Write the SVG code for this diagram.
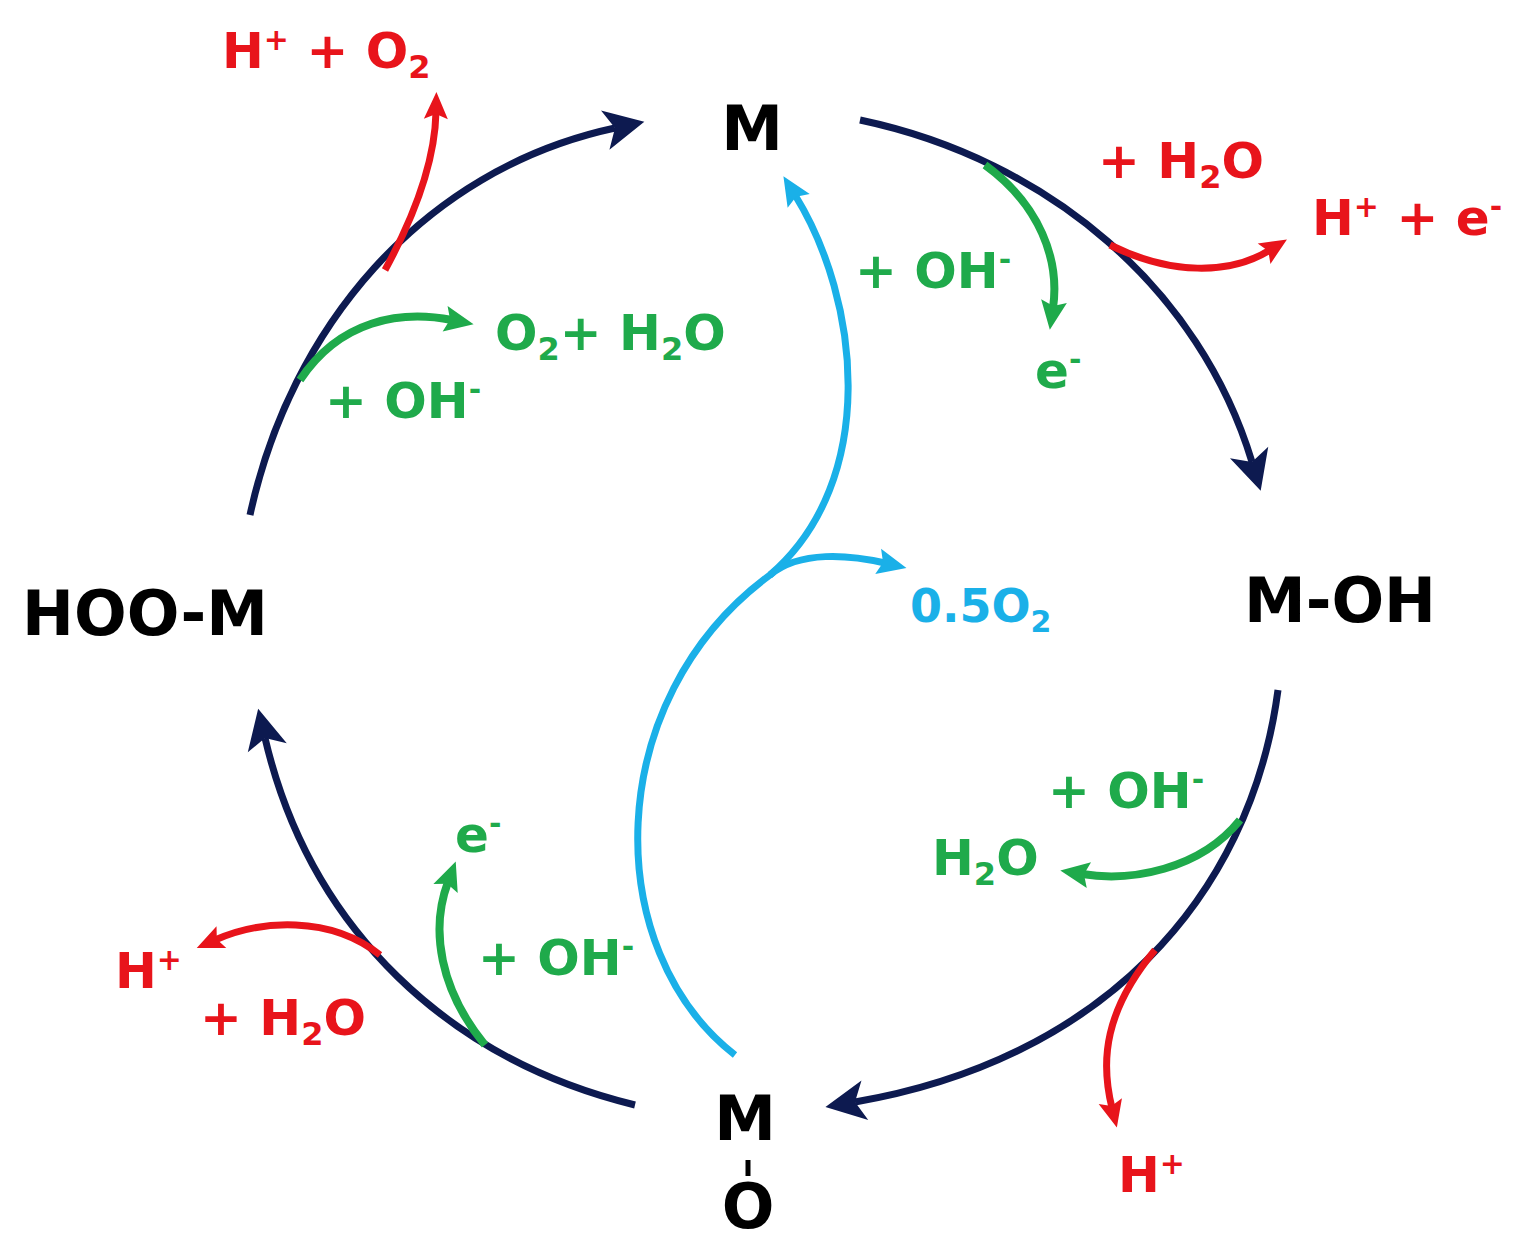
<svg xmlns="http://www.w3.org/2000/svg" width="1522" height="1255" viewBox="0 0 1522 1255">
<style>
text{font-family:"DejaVu Sans","Liberation Sans",sans-serif;font-weight:bold}
.k{fill:#000;font-size:62px}
.r{fill:#e8141b;font-size:50px}
.g{fill:#1faa4b;font-size:50px}
.c{fill:#1ab0e8;font-size:46px}
.n{fill:none;stroke:#0d1a50;stroke-width:7}
.rl{fill:none;stroke:#e8141b;stroke-width:7}
.gl{fill:none;stroke:#1faa4b;stroke-width:8}
.cl{fill:none;stroke:#1ab0e8;stroke-width:7}
</style>
<defs>
<marker id="an" markerWidth="8" markerHeight="8" refX="2" refY="4" orient="auto" markerUnits="userSpaceOnUse" viewBox="0 0 8 8" style="overflow:visible"><path d="M-8,-16 L32,4 L-8,24 L2,4z" fill="#0d1a50"/></marker>
<marker id="ar" viewBox="0 0 8 8" refX="2" refY="4" orient="auto" markerUnits="userSpaceOnUse" markerWidth="8" markerHeight="8" style="overflow:visible"><path d="M-5,-8 L22,4 L-5,16 L0,4z" fill="#e8141b"/></marker>
<marker id="ag" viewBox="0 0 8 8" refX="2" refY="4" orient="auto" markerUnits="userSpaceOnUse" markerWidth="8" markerHeight="8" style="overflow:visible"><path d="M-5,-9 L24,4 L-5,17 L0,4z" fill="#1faa4b"/></marker>
<marker id="ac" viewBox="0 0 8 8" refX="2" refY="4" orient="auto" markerUnits="userSpaceOnUse" markerWidth="8" markerHeight="8" style="overflow:visible"><path d="M-5,-9 L24,4 L-5,17 L0,4z" fill="#1ab0e8"/></marker>
</defs>
<g id="connectors">
<path class="n" d="M250,515 C290,330 420,170 615,128" marker-end="url(#an)"/>
<path class="n" d="M860,120 C1050,160 1200,290 1252,462" marker-end="url(#an)"/>
<path class="n" d="M1278,690 C1250,900 1100,1060 855,1102" marker-end="url(#an)"/>
<path class="n" d="M635,1105 C450,1060 310,930 265,738" marker-end="url(#an)"/>
<path class="rl" d="M385,270 C415,215 435,160 436,112" marker-end="url(#ar)"/>
<path class="rl" d="M1110,245 C1170,275 1230,275 1270,250" marker-end="url(#ar)"/>
<path class="rl" d="M1155,950 C1105,1010 1100,1060 1112,1108" marker-end="url(#ar)"/>
<path class="rl" d="M380,955 C330,915 260,920 215,940" marker-end="url(#ar)"/>
<path class="gl" d="M300,380 C340,320 400,310 452,320" marker-end="url(#ag)"/>
<path class="gl" d="M985,165 C1040,205 1060,260 1053,308" marker-end="url(#ag)"/>
<path class="gl" d="M1240,820 C1200,870 1130,882 1082,874" marker-end="url(#ag)"/>
<path class="gl" d="M485,1045 C440,990 430,930 448,882" marker-end="url(#ag)"/>
<path class="cl" d="M735,1055 C600,950 600,700 770,575 C880,480 860,300 795,195" marker-end="url(#ac)"/>
<path class="cl" d="M770,575 C800,550 850,555 885,563" marker-end="url(#ac)"/>
</g>
<g id="M"><text class="k" x="752" y="150" text-anchor="middle">M</text></g>
<g id="M-OH"><text class="k" x="1340" y="622" text-anchor="middle">M-OH</text></g>
<g id="HOO-M"><text class="k" x="145" y="635" text-anchor="middle">HOO-M</text></g>
<g id="M-O"><text class="k" x="745" y="1140" text-anchor="middle">M</text><text class="k" x="748" y="1228" text-anchor="middle">O</text><line x1="748" y1="1160" x2="748" y2="1176" stroke="#000" stroke-width="5"/></g>
<g id="labels">
<text class="r" x="222" y="68">H<tspan dy="-18" font-size="30">+</tspan><tspan dy="18"> + O</tspan><tspan dy="10" font-size="32">2</tspan></text>
<text class="r" x="1098" y="178">+ H<tspan dy="10" font-size="32">2</tspan><tspan dy="-10">O</tspan></text>
<text class="r" x="1312" y="235">H<tspan dy="-18" font-size="30">+</tspan><tspan dy="18"> + e</tspan><tspan dy="-18" font-size="30">-</tspan></text>
<text class="r" x="1118" y="1192">H<tspan dy="-18" font-size="30">+</tspan></text>
<text class="r" x="115" y="988">H<tspan dy="-18" font-size="30">+</tspan></text>
<text class="r" x="200" y="1035">+ H<tspan dy="10" font-size="32">2</tspan><tspan dy="-10">O</tspan></text>
<text class="g" x="495" y="350">O<tspan dy="10" font-size="32">2</tspan><tspan dy="-10">+ H</tspan><tspan dy="10" font-size="32">2</tspan><tspan dy="-10">O</tspan></text>
<text class="g" x="325" y="418">+ OH<tspan dy="-18" font-size="30">-</tspan></text>
<text class="g" x="855" y="288">+ OH<tspan dy="-18" font-size="30">-</tspan></text>
<text class="g" x="1035" y="388">e<tspan dy="-18" font-size="30">-</tspan></text>
<text class="g" x="1048" y="808">+ OH<tspan dy="-18" font-size="30">-</tspan></text>
<text class="g" x="932" y="875">H<tspan dy="10" font-size="32">2</tspan><tspan dy="-10">O</tspan></text>
<text class="g" x="455" y="852">e<tspan dy="-18" font-size="30">-</tspan></text>
<text class="g" x="478" y="975">+ OH<tspan dy="-18" font-size="30">-</tspan></text>
<text class="c" x="910" y="622">0.5O<tspan dy="10" font-size="30">2</tspan></text>
</g>
</svg>
